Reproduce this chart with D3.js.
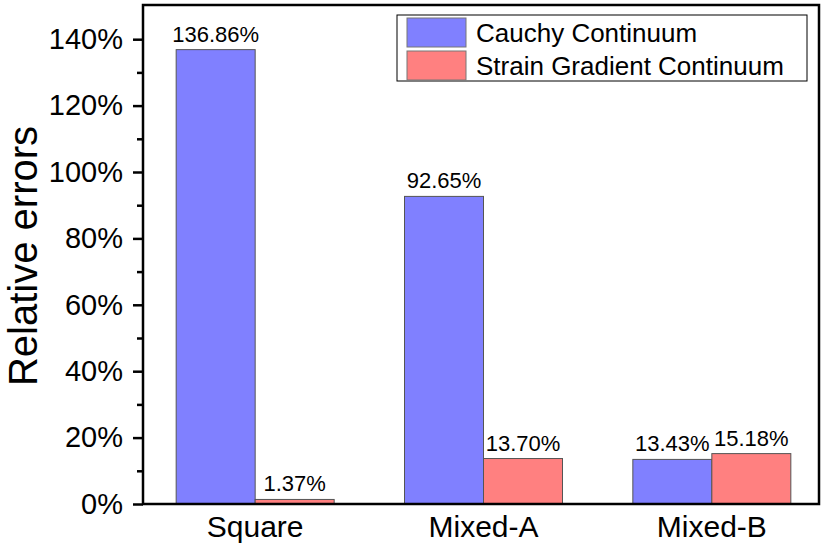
<!DOCTYPE html>
<html>
<head>
<meta charset="utf-8">
<script src="https://cdn.jsdelivr.net/npm/d3@7"></script>
<style>
body { margin: 0; background: #fff; }
text { font-family: "Liberation Sans", Arial, sans-serif; fill: #000; }
</style>
</head>
<body>
<div id="chart"></div>
<script>
var categories = ["Square", "Mixed-A", "Mixed-B"];
var seriesNames = ["Cauchy Continuum", "Strain Gradient Continuum"];
var cauchy = [136.86, 92.65, 13.43];
var strainGradient = [1.37, 13.70, 15.18];
var yTicks = [0, 20, 40, 60, 80, 100, 120, 140];
var colors = ["#8080ff", "#ff8080"];

var W = 827, H = 549;
var margin = {top: 5, right: 8, bottom: 45, left: 143},
    width = W - margin.left - margin.right,
    height = H - margin.top - margin.bottom;

var svg = d3.select("#chart").append("svg")
    .attr("width", W)
    .attr("height", H);
var g = svg.append("g")
    .attr("transform", "translate(" + margin.left + "," + margin.top + ")");

var x = d3.scaleBand()
    .domain(categories)
    .range([-2, width + 7])
    .padding(0);
var y = d3.scaleLinear()
    .domain([0, 150.3])
    .range([height, 0]);
var barW = 79;

var series = [cauchy, strainGradient];
series.forEach(function(vals, s) {
    g.selectAll(".bar" + s)
        .data(vals)
        .enter().append("rect")
        .attr("x", function(d, i) { return x(categories[i]) + x.bandwidth() / 2 - barW + s * barW; })
        .attr("y", function(d) { return y(d); })
        .attr("width", barW)
        .attr("height", function(d) { return height - y(d); })
        .attr("fill", colors[s])
        .attr("stroke", "#555")
        .attr("stroke-width", 1);
    g.selectAll(".lab" + s)
        .data(vals)
        .enter().append("text")
        .attr("x", function(d, i) { return x(categories[i]) + x.bandwidth() / 2 - barW / 2 + s * barW; })
        .attr("y", function(d) { return y(d) - 8; })
        .attr("text-anchor", "middle")
        .style("font-size", "22px")
        .text(function(d) { return d.toFixed(2) + "%"; });
});

// frame
g.append("rect")
    .attr("x", 0).attr("y", 0)
    .attr("width", width).attr("height", height)
    .attr("fill", "none")
    .attr("stroke", "#000")
    .attr("stroke-width", 2.5);

// y axis: major + minor ticks
var yAxis = g.append("g")
    .call(d3.axisLeft(y).tickValues(yTicks).tickSize(10).tickPadding(10)
        .tickFormat(function(d) { return d + "%"; }));
yAxis.select(".domain").remove();
yAxis.selectAll(".tick line").attr("stroke-width", 2.5);
yAxis.selectAll(".tick text").style("font-size", "29px");

var yMinor = g.append("g")
    .call(d3.axisLeft(y).tickValues(d3.range(10, 150, 20)).tickSize(6).tickFormat(""));
yMinor.select(".domain").remove();
yMinor.selectAll(".tick line").attr("stroke-width", 2.5);

// x axis labels
var xAxis = g.append("g")
    .attr("transform", "translate(0," + height + ")")
    .call(d3.axisBottom(x).tickSize(0).tickPadding(12));
xAxis.select(".domain").remove();
xAxis.selectAll(".tick text").style("font-size", "30px");

// y title
svg.append("text")
    .attr("transform", "translate(37,256) rotate(-90)")
    .attr("text-anchor", "middle")
    .style("font-size", "40px")
    .text("Relative errors");

// legend
var legend = svg.append("g").attr("transform", "translate(397,15)");
legend.append("rect")
    .attr("width", 410).attr("height", 66)
    .attr("fill", "#fff")
    .attr("stroke", "#000")
    .attr("stroke-width", 1);
seriesNames.forEach(function(name, i) {
    legend.append("rect")
        .attr("x", 10).attr("y", 3 + i * 33)
        .attr("width", 59).attr("height", 29)
        .attr("fill", colors[i])
        .attr("stroke", "#777")
        .attr("stroke-width", 1);
    legend.append("text")
        .attr("x", 79).attr("y", 27 + i * 33)
        .style("font-size", "26px")
        .text(name);
});
</script>
</body>
</html>
